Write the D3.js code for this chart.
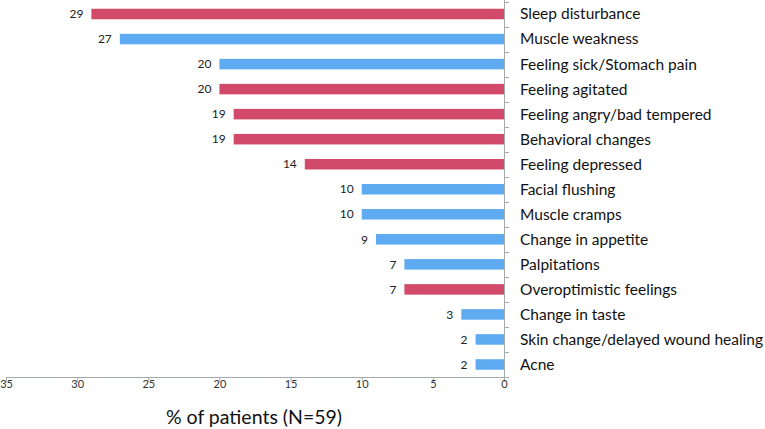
<!DOCTYPE html>
<html><head><meta charset="utf-8">
<script src="https://cdn.jsdelivr.net/npm/d3@7"></script>
<style>body{margin:0;background:#fff}svg{display:block}</style>
</head><body><svg id="c" width="765" height="429"></svg>
<script>
const categories = ["Sleep disturbance","Muscle weakness","Feeling sick/Stomach pain","Feeling agitated","Feeling angry/bad tempered","Behavioral changes","Feeling depressed","Facial flushing","Muscle cramps","Change in appetite","Palpitations","Overoptimistic feelings","Change in taste","Skin change/delayed wound healing","Acne"];
const values = [29,27,20,20,19,19,14,10,10,9,7,7,3,2,2];
const groups = ["psych","phys","phys","psych","psych","psych","psych","phys","phys","phys","phys","psych","phys","phys","phys"];
const xTicks = [35,30,25,20,15,10,5,0];
const colors = {psych:"#d24a6a", phys:"#5eabf1"};

const svg = d3.select("#c");
const x = d3.scaleLinear().domain([35,0]).range([6,504]);
const y = d3.scaleBand().domain(categories).range([1.5,377]).paddingInner(0.58).paddingOuter(0.29);
const yb = d3.scaleBand().domain(categories).range([1.5,377]);
const font = "Lato, 'Open Sans', sans-serif";
const axisCol = "#a3abaf";

svg.selectAll("rect.bar").data(categories).enter().append("rect")
  .attr("x", (d,i)=>x(values[i]))
  .attr("y", d=>y(d))
  .attr("width", (d,i)=>x(0)-x(values[i]))
  .attr("height", y.bandwidth())
  .attr("fill", (d,i)=>colors[groups[i]]);

svg.selectAll("text.val").data(categories).enter().append("text")
  .attr("x", (d,i)=>x(values[i])-8)
  .attr("y", d=>y(d)+y.bandwidth()/2)
  .attr("dy","0.35em")
  .attr("text-anchor","end")
  .attr("font-family", font).attr("font-size",12).attr("fill","#222")
  .text((d,i)=>values[i]);

// x axis
const gx = svg.append("g").attr("transform","translate(0,377)")
  .call(d3.axisBottom(x).tickValues(xTicks).tickSize(5).tickSizeOuter(0).tickFormat(d3.format("d")));
gx.select(".domain").attr("stroke",axisCol);
gx.selectAll(".tick line").attr("stroke",axisCol);
gx.selectAll(".tick text").attr("font-family",font).attr("font-size",11).attr("fill","#333").attr("dy","0.3em");

// y axis (at x=0, ticks to the right at band boundaries)
const bounds = categories.map(c=>yb(c)).concat([377]);
svg.append("line").attr("x1",504.5).attr("x2",504.5).attr("y1",0).attr("y2",377).attr("stroke",axisCol);
svg.selectAll("line.yt").data(bounds).enter().append("line")
  .attr("x1",504.5).attr("x2",509).attr("y1",d=>Math.round(d)+0.5).attr("y2",d=>Math.round(d)+0.5)
  .attr("stroke",axisCol);

svg.selectAll("text.cat").data(categories).enter().append("text")
  .attr("x",520)
  .attr("y", d=>yb(d)+yb.bandwidth()/2)
  .attr("dy","0.35em")
  .attr("font-family",font).attr("font-size",15.5).attr("fill","#111")
  .text(d=>d);

svg.append("text").attr("x",254).attr("y",417).attr("dy","0.35em")
  .attr("text-anchor","middle").attr("font-family",font).attr("font-size",19.5).attr("fill","#111")
  .text("% of patients (N=59)");
</script></body></html>
